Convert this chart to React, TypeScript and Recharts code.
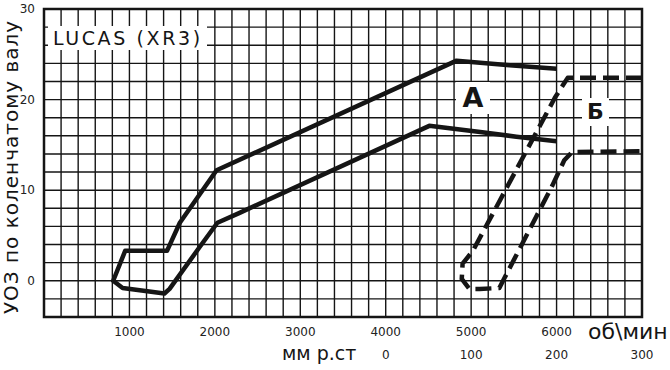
import { ComposedChart, Line, XAxis, YAxis, CartesianGrid, ReferenceArea } from 'recharts'

// шкала оборотов и разрежения
const rpmLabels = [1000, 2000, 3000, 4000, 5000, 6000]
const vacuumLabels = [0, 100, 200, 300]
const degreeLabels = [0, 10, 20, 30]

// центробежный регулятор (A), сплошная петля
const centrifugalRpm = [6000, 5450, 4830, 2020, 1590, 1440, 950, 810, 920, 1410, 1470, 1820, 2030, 2290, 4510, 5130, 5530, 6000]
const centrifugalDeg = [23.4, 23.8, 24.3, 12.2, 6.4, 3.3, 3.3, 0.0, -0.8, -1.4, -0.9, 3.7, 6.4, 7.5, 17.1, 16.4, 15.9, 15.4]

// вакуумный регулятор (Б), пунктир, мм рт. ст.
const vacuumMm = [300, 213, 198, 102, 90, 89, 98, 110, 133, 139, 195, 209, 218, 300]
const vacuumDeg = [22.4, 22.4, 20.2, 3.3, 1.9, 0.2, -0.9, -0.9, -0.8, 0.3, 10.5, 13.3, 14.2, 14.3]

const range = (from: number, to: number, step: number) => {
  const out: number[] = []
  for (let v = from; v <= to; v += step) out.push(v)
  return out
}

const gridX = range(0, 7000, 200)
const gridY = range(-4, 30, 2)

const centrifugal = centrifugalRpm.map((rpm, i) => ({ rpm, deg: centrifugalDeg[i] }))
const vacuum = vacuumMm.map((vac, i) => ({ vac, deg: vacuumDeg[i] }))

const ink = '#151515'
const font = 'DejaVu Sans, sans-serif'
const tickStyle = { fontSize: 12, fill: '#222', fontFamily: font }

export default function App() {
  return (
    <div style={{ position: 'absolute', left: 0, top: 0, width: 670, height: 370, background: '#fff', fontFamily: font, color: ink }}>
      <ComposedChart width={670} height={370} margin={{ top: 9, right: 28, bottom: 51, left: 43 }}>
        <CartesianGrid stroke={ink} strokeWidth={1.4} />
        <XAxis
          dataKey="rpm"
          type="number"
          domain={[0, 7000]}
          ticks={gridX}
          interval={0}
          height={1}
          tickSize={0}
          tickMargin={10}
          axisLine={false}
          tick={tickStyle}
          tickFormatter={(v: number) => (rpmLabels.includes(v) ? String(v) : '')}
        />
        <XAxis
          xAxisId="vac"
          dataKey="vac"
          type="number"
          domain={[-400, 300]}
          ticks={vacuumLabels}
          interval={0}
          height={1}
          tickSize={0}
          tickMargin={32}
          axisLine={false}
          tick={tickStyle}
        />
        <YAxis
          type="number"
          domain={[-4, 30]}
          ticks={gridY}
          interval={0}
          width={1}
          tickSize={0}
          tickMargin={9}
          axisLine={false}
          tick={tickStyle}
          tickFormatter={(v: number) => (degreeLabels.includes(v) ? String(v) : '')}
        />
        <ReferenceArea x1={0} x2={7000} y1={-4} y2={30} fill="none" stroke={ink} strokeWidth={2.5} />
        <Line
          data={centrifugal}
          dataKey="deg"
          stroke={ink}
          strokeWidth={4.5}
          strokeLinejoin="round"
          dot={false}
          isAnimationActive={false}
        />
        <Line
          data={vacuum}
          xAxisId="vac"
          dataKey="deg"
          stroke={ink}
          strokeWidth={4.5}
          strokeDasharray="16 7"
          strokeLinejoin="round"
          dot={false}
          isAnimationActive={false}
        />
      </ComposedChart>

      <div style={{ position: 'absolute', left: 48, top: 26, width: 159, height: 24, background: '#fff' }} />
      <div style={{ position: 'absolute', left: 53, top: 26, fontSize: 19, letterSpacing: 2.6, lineHeight: '24px', whiteSpace: 'nowrap' }}>
        LUCAS (XR3)
      </div>
      <div style={{ position: 'absolute', left: 456, top: 82, width: 34, height: 32, background: '#fff', fontWeight: 'bold', fontSize: 27, lineHeight: '32px', textAlign: 'center' }}>
        A
      </div>
      <div style={{ position: 'absolute', left: 582, top: 98, width: 27, height: 28, background: '#fff', fontWeight: 'bold', fontSize: 22, lineHeight: '28px', textAlign: 'center' }}>
        Б
      </div>
      <div style={{ position: 'absolute', left: 588, top: 318, fontSize: 22, lineHeight: '28px', whiteSpace: 'nowrap' }}>
        об\мин
      </div>
      <div style={{ position: 'absolute', left: 282, top: 341, fontSize: 19, lineHeight: '24px', whiteSpace: 'nowrap' }}>
        мм р.ст
      </div>
      <div
        style={{
          position: 'absolute',
          left: 11,
          top: 167,
          transform: 'translate(-50%, -50%) rotate(-90deg)',
          fontSize: 20,
          letterSpacing: 1,
          lineHeight: '22px',
          whiteSpace: 'nowrap',
        }}
      >
        УОЗ по коленчатому валу
      </div>
    </div>
  )
}
